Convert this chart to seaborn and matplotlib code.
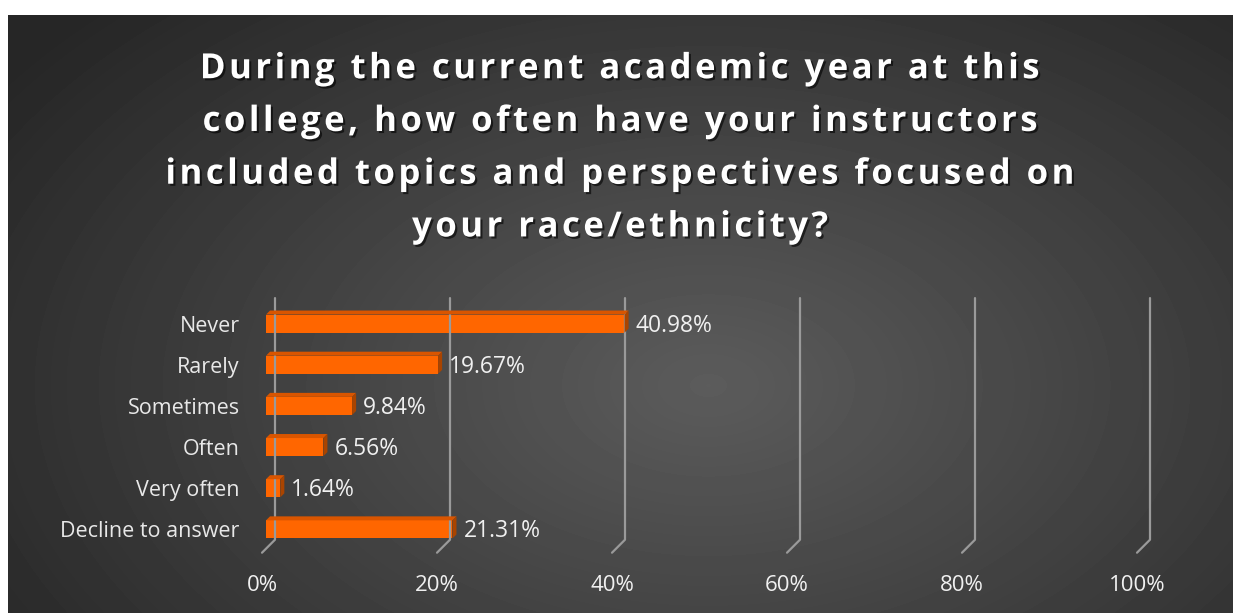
import numpy as np
import pandas as pd
import matplotlib
matplotlib.use("Agg")
import matplotlib.pyplot as plt
import matplotlib.patheffects as pe
from matplotlib.patches import Polygon
from matplotlib.lines import Line2D
from matplotlib.transforms import IdentityTransform
import seaborn as sns

categories = ["Never", "Rarely", "Sometimes", "Often", "Very often", "Decline to answer"]
percents = [40.98, 19.67, 9.84, 6.56, 1.64, 21.31]
value_labels = ["40.98%", "19.67%", "9.84%", "6.56%", "1.64%", "21.31%"]
ticks = [0, 20, 40, 60, 80, 100]
tick_labels = ["0%", "20%", "40%", "60%", "80%", "100%"]
title_lines = ["During the current academic year at this",
               "college, how often have your instructors",
               "included topics and perspectives focused on",
               "your race/ethnicity?"]

df = pd.DataFrame({"category": categories, "percent": percents})

sns.set_theme(style="white")
plt.rcParams["font.family"] = ["Open Sans", "DejaVu Sans"]

W, H = 1233, 613
fig = plt.figure(figsize=(W / 100, H / 100), dpi=100)
fig.patch.set_facecolor("white")

# dark panel with radial gradient
bg = fig.add_axes([8 / W, 0, 1 - 8 / W, (H - 15) / H])
yy, xx = np.mgrid[0:598, 0:1225]
r = np.sqrt(((xx - 700) / 900) ** 2 + ((yy - 370) / 560) ** 2)
shade = np.clip(0.36 - 0.22 * r, 0.15, 0.36)
bg.imshow(shade, cmap="gray", vmin=0, vmax=1, aspect="auto", interpolation="bilinear")
bg.set_axis_off()

# plot axes: data 0 -> px 266, 100 -> px 1141
ax = fig.add_axes([266 / W, (H - 550) / H, 875 / W, 247 / H])
ax.patch.set_alpha(0)
sns.barplot(data=df, x="percent", y="category", color="#FF6600", width=0.44,
            saturation=1, edgecolor="none", linewidth=0, ax=ax, zorder=3)
ax.set_xlim(0, 100)
ax.set_ylim(5.5, -0.5)
ax.set_xlabel("")
ax.set_ylabel("")
ax.set_xticks([])
ax.tick_params(axis="y", length=0, pad=19, labelsize=15.5, labelcolor="#e8e8e8")
for s in ax.spines.values():
    s.set_visible(False)

fig.canvas.draw()
idt = IdentityTransform()

# floor/grid lines in 3D style
for t, lab in zip(ticks, tick_labels):
    x0, ytop = ax.transData.transform((t, -0.62))
    _, ybot = ax.transData.transform((t, 5.25))
    xs = [x0 + 9, x0 + 9, x0 - 4]
    ys = [ytop, ybot, ybot - 13]
    fig.add_artist(Line2D(xs, ys, transform=idt, color="#9a9a9a", lw=1.6, zorder=1))
    fig.text(x0 - 4, ybot - 46, lab, transform=idt, ha="center", va="center",
             color="#f0f0f0", fontsize=16)

# 3D faces on bars and value labels
d = 4
for bar, lab in zip(ax.patches, value_labels):
    (bx0, by0), (bx1, by1) = ax.transData.transform(
        [(bar.get_x(), bar.get_y() + bar.get_height()), (bar.get_x() + bar.get_width(), bar.get_y())])
    top = Polygon([(bx0, by1), (bx1, by1), (bx1 + d, by1 + d), (bx0 + d, by1 + d)],
                  closed=True, transform=idt, facecolor="#D95500", edgecolor="none", zorder=4)
    side = Polygon([(bx1, by0), (bx1 + d, by0 + d), (bx1 + d, by1 + d), (bx1, by1)],
                   closed=True, transform=idt, facecolor="#A94400", edgecolor="none", zorder=4)
    fig.add_artist(top)
    fig.add_artist(side)
    fig.text(bx1 + d + 7, (by0 + by1) / 2 - 2, lab, transform=idt, ha="left", va="center",
             color="#f0f0f0", fontsize=16.5)

# title with letter spacing (hair spaces between glyphs)
title = "\n".join("\u200a".join(line) for line in title_lines)
fig.text(0.503, 0.758, title, ha="center", va="center", color="white",
         fontsize=25, fontweight="bold", linespacing=1.62,
         path_effects=[pe.withSimplePatchShadow(offset=(1.5, -1.5), shadow_rgbFace="black", alpha=0.6)])

fig.savefig("out.png", dpi=100)
